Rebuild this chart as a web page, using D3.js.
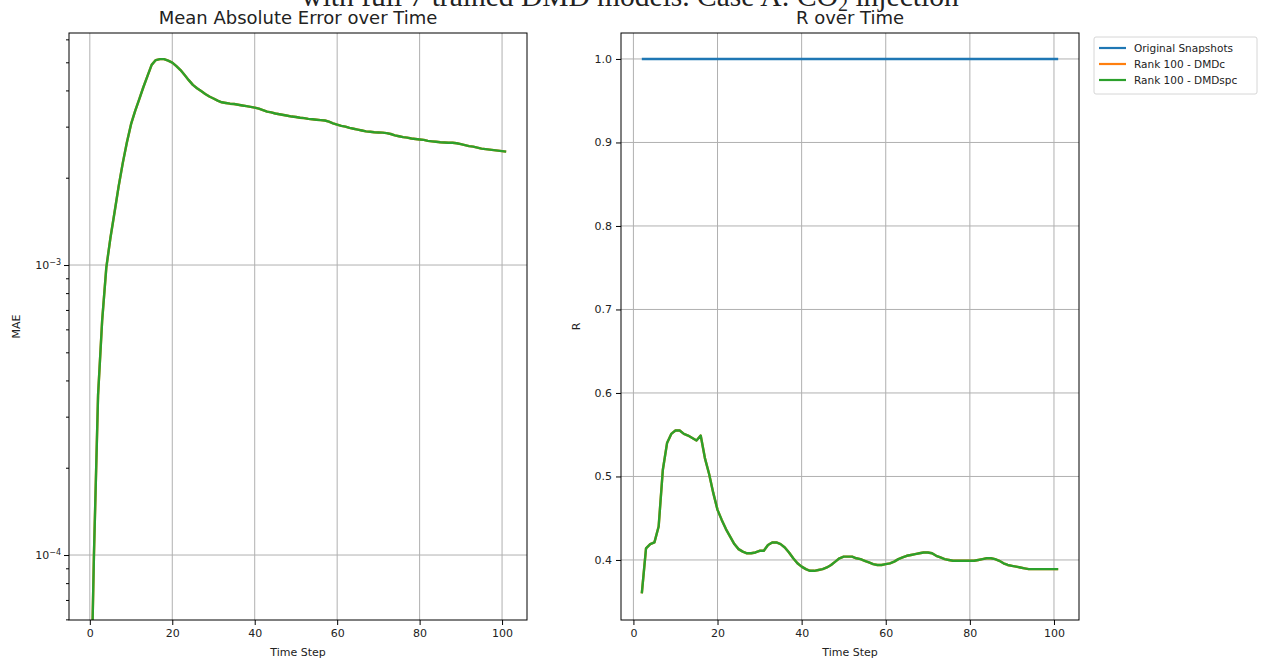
<!DOCTYPE html>
<html>
<head>
<meta charset="utf-8">
<script src="https://cdn.jsdelivr.net/npm/d3@7"></script>
<style>
  body { margin: 0; background: #fff; }
  text { font-family: "DejaVu Sans", sans-serif; fill: #222; }
  .grid line { stroke: #b0b0b0; stroke-width: 1; }
</style>
</head>
<body>
<svg width="1267" height="664"></svg>
<script>
const svg = d3.select("svg"),
    width = +svg.attr("width"),
    height = +svg.attr("height");

// MAE per time step (t = 0..101), DMDc and DMDspc overlap
const maeSteps = d3.range(0, 102);
const maeDMDspc = [
  2.0e-5, 1.0e-4, 3.56e-4, 6.46e-4, 9.8e-4, 1.24e-3, 1.52e-3, 1.87e-3, 2.25e-3, 2.65e-3,
  3.06e-3, 3.40e-3, 3.73e-3, 4.11e-3, 4.49e-3, 4.90e-3, 5.09e-3, 5.13e-3, 5.13e-3, 5.07e-3,
  4.99e-3, 4.85e-3, 4.70e-3, 4.52e-3, 4.34e-3, 4.18e-3, 4.07e-3, 3.98e-3, 3.89e-3, 3.81e-3,
  3.75e-3, 3.69e-3, 3.64e-3, 3.62e-3, 3.60e-3, 3.59e-3, 3.57e-3, 3.55e-3, 3.53e-3, 3.51e-3,
  3.49e-3, 3.46e-3, 3.42e-3, 3.38e-3, 3.36e-3, 3.33e-3, 3.31e-3, 3.29e-3, 3.27e-3, 3.25e-3,
  3.24e-3, 3.22e-3, 3.21e-3, 3.19e-3, 3.18e-3, 3.17e-3, 3.16e-3, 3.15e-3, 3.12e-3, 3.08e-3,
  3.05e-3, 3.02e-3, 3.00e-3, 2.97e-3, 2.95e-3, 2.93e-3, 2.91e-3, 2.89e-3, 2.88e-3, 2.87e-3,
  2.865e-3, 2.86e-3, 2.85e-3, 2.83e-3, 2.80e-3, 2.78e-3, 2.76e-3, 2.75e-3, 2.73e-3, 2.72e-3,
  2.71e-3, 2.70e-3, 2.68e-3, 2.67e-3, 2.66e-3, 2.65e-3, 2.645e-3, 2.64e-3, 2.64e-3, 2.63e-3,
  2.61e-3, 2.59e-3, 2.57e-3, 2.56e-3, 2.54e-3, 2.52e-3, 2.51e-3, 2.50e-3, 2.49e-3, 2.48e-3,
  2.47e-3, 2.46e-3
];
const maeDMDc = maeDMDspc.slice();

// R per time step (t = 2..101)
const rSteps = d3.range(2, 102);
const rOriginal = rSteps.map(() => 1.0);
const rDMDspc = [
  0.360, 0.414, 0.419, 0.421, 0.440, 0.508, 0.540, 0.551, 0.555, 0.555,
  0.551, 0.549, 0.546, 0.543, 0.549, 0.522, 0.503, 0.480, 0.460, 0.448,
  0.437, 0.428, 0.419, 0.413, 0.410, 0.408, 0.408, 0.409, 0.411, 0.411,
  0.418, 0.421, 0.421, 0.419, 0.415, 0.409, 0.402, 0.396, 0.392, 0.389,
  0.387, 0.387, 0.388, 0.389, 0.391, 0.394, 0.398, 0.402, 0.404, 0.404,
  0.404, 0.402, 0.401, 0.399, 0.397, 0.395, 0.394, 0.394, 0.395, 0.396,
  0.398, 0.401, 0.403, 0.405, 0.406, 0.407, 0.408, 0.409, 0.409, 0.408,
  0.405, 0.403, 0.401, 0.400, 0.399, 0.399, 0.399, 0.399, 0.399, 0.399,
  0.400, 0.401, 0.402, 0.402, 0.401, 0.399, 0.396, 0.394, 0.393, 0.392,
  0.391, 0.390, 0.389, 0.389, 0.389, 0.389, 0.389, 0.389, 0.389, 0.389
];
const rDMDc = rDMDspc.slice();

const seriesNames = ["Original Snapshots", "Rank 100 - DMDc", "Rank 100 - DMDspc"];
const seriesColors = ["#1f77b4", "#ff7f0e", "#2ca02c"];
const xTicks = [0, 20, 40, 60, 80, 100];
const rTicks = [0.4, 0.5, 0.6, 0.7, 0.8, 0.9, 1.0];

// figure title (top line is cut off in the original)
svg.append("text")
    .attr("x", 630).attr("y", 6)
    .attr("text-anchor", "middle")
    .style("font-family", "'Liberation Serif', 'Times New Roman', serif")
    .style("font-size", "29.5px")
    .selectAll("tspan")
    .data([["with full 7 trained DMD models. Case A: CO", 0], ["2", 1], [" injection", 2]])
    .join("tspan")
    .attr("baseline-shift", d => d[1] === 1 ? "-25%" : null)
    .style("font-size", d => d[1] === 1 ? "20px" : null)
    .text(d => d[0]);

function panel(box, title, ylabel) {
    const g = svg.append("g");
    const id = "clip" + Math.round(box.x0);
    svg.append("clipPath").attr("id", id)
        .append("rect")
        .attr("x", box.x0).attr("y", box.y0)
        .attr("width", box.x1 - box.x0).attr("height", box.y1 - box.y0);
    g.append("text")
        .attr("x", (box.x0 + box.x1) / 2).attr("y", box.y0 - 9)
        .attr("text-anchor", "middle")
        .style("font-size", "18px")
        .text(title);
    g.append("text")
        .attr("x", (box.x0 + box.x1) / 2).attr("y", 656)
        .attr("text-anchor", "middle")
        .style("font-size", "11px")
        .text("Time Step");
    g.append("text")
        .attr("transform", `translate(${box.ylx},${(box.y0 + box.y1) / 2}) rotate(-90)`)
        .attr("text-anchor", "middle")
        .style("font-size", "11px")
        .text(ylabel);
    return { g, clip: `url(#${id})` };
}

// ---- left panel: MAE (log)
const L = { x0: 69, x1: 527, y0: 33, y1: 620, ylx: 20 };
const xL = d3.scaleLinear().domain([-5.05, 106.05]).range([L.x0, L.x1]);
const yL = d3.scaleLog().domain([5.97e-5, 6.31e-3]).range([L.y1, L.y0]);
const pL = panel(L, "Mean Absolute Error over Time", "MAE");

const gridL = pL.g.append("g").attr("class", "grid");
gridL.selectAll(".gx").data(xTicks).join("line")
    .attr("x1", d => xL(d)).attr("x2", d => xL(d))
    .attr("y1", L.y0).attr("y2", L.y1);
gridL.selectAll(".gy").data([1e-4, 1e-3]).join("line")
    .attr("class", "gy")
    .attr("x1", L.x0).attr("x2", L.x1)
    .attr("y1", d => yL(d)).attr("y2", d => yL(d));

const maeLine = d3.line().x((d, i) => xL(maeSteps[i])).y(d => yL(d));
[maeDMDc, maeDMDspc].forEach((s, k) => {
    pL.g.append("path")
        .datum(s)
        .attr("clip-path", pL.clip)
        .attr("fill", "none")
        .attr("stroke", seriesColors[k + 1])
        .attr("stroke-width", 2.4)
        .attr("stroke-linejoin", "round")
        .attr("d", maeLine);
});

pL.g.append("g")
    .attr("transform", `translate(0,${L.y1})`)
    .call(d3.axisBottom(xL).tickValues(xTicks).tickSize(5).tickSizeOuter(0).tickPadding(4))
    .call(a => a.select(".domain").remove())
    .call(a => a.selectAll("text").style("font-size", "11px").attr("fill", "#222"));

const minorL = [];
[1e-5, 1e-4, 1e-3].forEach(b => d3.range(2, 10).forEach(m => {
    const v = b * m;
    if (v >= 5.97e-5 && v <= 6.31e-3) minorL.push(v);
}));
pL.g.append("g")
    .attr("transform", `translate(${L.x0},0)`)
    .call(d3.axisLeft(yL).tickValues(minorL).tickSize(3).tickFormat(""))
    .call(a => a.select(".domain").remove());
const yAxL = pL.g.append("g")
    .attr("transform", `translate(${L.x0},0)`)
    .call(d3.axisLeft(yL).tickValues([1e-4, 1e-3]).tickSize(5).tickFormat("").tickSizeOuter(0))
    .call(a => a.select(".domain").remove());
yAxL.selectAll(".tick").append("text")
    .attr("x", -8).attr("dy", "0.32em")
    .attr("text-anchor", "end")
    .style("font-size", "11px")
    .attr("fill", "#222")
    .each(function (d) {
        const t = d3.select(this);
        t.append("tspan").text("10");
        t.append("tspan").attr("dy", "-0.45em").style("font-size", "8px")
            .text("\u2212" + Math.round(-Math.log10(d)));
    });

pL.g.append("rect")
    .attr("x", L.x0).attr("y", L.y0)
    .attr("width", L.x1 - L.x0).attr("height", L.y1 - L.y0)
    .attr("fill", "none").attr("stroke", "#000").attr("stroke-width", 1);

// ---- right panel: R
const R = { x0: 621, x1: 1079, y0: 33, y1: 620, ylx: 580 };
const xR = d3.scaleLinear().domain([-2.95, 105.95]).range([R.x0, R.x1]);
const yR = d3.scaleLinear().domain([0.3281, 1.0311]).range([R.y1, R.y0]);
const pR = panel(R, "R over Time", "R");

const gridR = pR.g.append("g").attr("class", "grid");
gridR.selectAll(".gx").data(xTicks).join("line")
    .attr("x1", d => xR(d)).attr("x2", d => xR(d))
    .attr("y1", R.y0).attr("y2", R.y1);
gridR.selectAll(".gy").data(rTicks).join("line")
    .attr("class", "gy")
    .attr("x1", R.x0).attr("x2", R.x1)
    .attr("y1", d => yR(d)).attr("y2", d => yR(d));

const rLine = d3.line().x((d, i) => xR(rSteps[i])).y(d => yR(d));
[rOriginal, rDMDc, rDMDspc].forEach((s, k) => {
    pR.g.append("path")
        .datum(s)
        .attr("clip-path", pR.clip)
        .attr("fill", "none")
        .attr("stroke", seriesColors[k])
        .attr("stroke-width", 2.4)
        .attr("stroke-linejoin", "round")
        .attr("d", rLine);
});

pR.g.append("g")
    .attr("transform", `translate(0,${R.y1})`)
    .call(d3.axisBottom(xR).tickValues(xTicks).tickSize(5).tickSizeOuter(0).tickPadding(4))
    .call(a => a.select(".domain").remove())
    .call(a => a.selectAll("text").style("font-size", "11px").attr("fill", "#222"));
pR.g.append("g")
    .attr("transform", `translate(${R.x0},0)`)
    .call(d3.axisLeft(yR).tickValues(rTicks).tickSize(5).tickFormat(d3.format(".1f")).tickPadding(4))
    .call(a => a.select(".domain").remove())
    .call(a => a.selectAll("text").style("font-size", "11px").attr("fill", "#222"));

pR.g.append("rect")
    .attr("x", R.x0).attr("y", R.y0)
    .attr("width", R.x1 - R.x0).attr("height", R.y1 - R.y0)
    .attr("fill", "none").attr("stroke", "#000").attr("stroke-width", 1);

// legend
const leg = svg.append("g").attr("transform", "translate(1094,37)");
leg.append("rect")
    .attr("width", 163).attr("height", 57).attr("rx", 2)
    .attr("fill", "#fff").attr("stroke", "#d6d6d6");
const items = leg.selectAll(".item").data(seriesNames).join("g")
    .attr("transform", (d, i) => `translate(0,${11 + i * 16})`);
items.append("line")
    .attr("x1", 5).attr("x2", 32)
    .attr("stroke", (d, i) => seriesColors[i]).attr("stroke-width", 2.2);
items.append("text")
    .attr("x", 40).attr("dy", "0.35em")
    .style("font-size", "10.5px")
    .text(d => d);
</script>
</body>
</html>
